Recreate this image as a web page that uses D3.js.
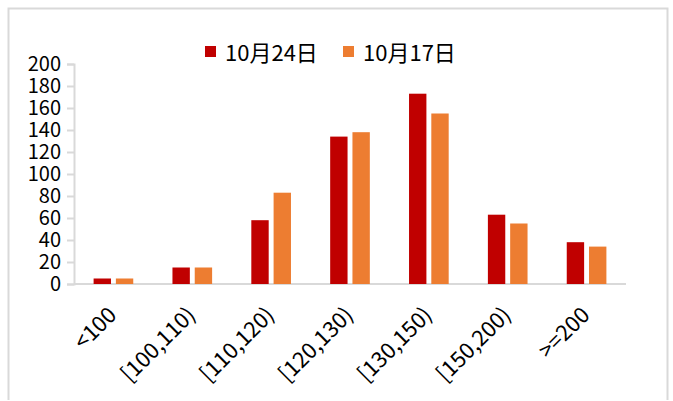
<!DOCTYPE html>
<html>
<head>
<meta charset="utf-8">
<script src="https://cdn.jsdelivr.net/npm/d3@7"></script>
<style>
  html, body { margin: 0; padding: 0; background: #fff; }
  text { font-family: "Noto Sans CJK SC", "Noto Sans", sans-serif; fill: #000; }
</style>
</head>
<body>
<div id="chart"></div>
<script>
// data
const categories = ['<100', '[100,110)', '[110,120)', '[120,130)', '[130,150)', '[150,200)', '>=200'];
const seriesNames = ['10月24日', '10月17日'];
const seriesColors = ['#C00000', '#ED7D31'];
const oct24 = [5, 15, 58, 134, 173, 63, 38];
const oct17 = [5, 15, 83, 138, 155, 55, 34];
const yTicks = [0, 20, 40, 60, 80, 100, 120, 140, 160, 180, 200];

const svgWidth = 673, svgHeight = 401;
const margin = {top: 64, right: 47, bottom: 117, left: 74};
const innerWidth = svgWidth - margin.left - margin.right;
const innerHeight = svgHeight - margin.top - margin.bottom;

const svg = d3.select('#chart').append('svg')
    .attr('width', svgWidth)
    .attr('height', svgHeight);

// outer frame
svg.append('path')
    .attr('d', 'M8.5,400 L8.5,8.5 L667.5,8.5 L667.5,400')
    .attr('fill', 'none')
    .attr('stroke', '#d9d9d9')
    .attr('stroke-width', 2);

const g = svg.append('g')
    .attr('transform', `translate(${margin.left},${margin.top})`);

const x0 = d3.scaleBand()
    .domain(categories)
    .range([0, innerWidth]);

const x1 = d3.scaleBand()
    .domain(seriesNames)
    .range([0, x0.bandwidth()])
    .paddingInner(0.22)
    .paddingOuter(0.88);

const y = d3.scaleLinear()
    .domain([0, 200])
    .range([innerHeight, 0]);

// y axis
const yAxisG = g.append('g')
    .call(d3.axisLeft(y).tickValues(yTicks).tickSize(7).tickPadding(6));
yAxisG.select('.domain').attr('stroke', '#d9d9d9').attr('stroke-width', 2);
yAxisG.selectAll('.tick line').attr('stroke', '#d9d9d9').attr('stroke-width', 2);
yAxisG.selectAll('.tick text')
    .style('font-size', '20px')
    .style('font-family', '"Noto Sans CJK SC", sans-serif')
    .attr('fill', '#000');

// x axis line
g.append('line')
    .attr('x1', 0).attr('x2', innerWidth)
    .attr('y1', innerHeight).attr('y2', innerHeight)
    .attr('stroke', '#d9d9d9')
    .attr('stroke-width', 2);

// bars
const rows = categories.map((c, i) => ({cat: c, vals: [oct24[i], oct17[i]]}));

g.selectAll('g.cat').data(rows)
    .join('g')
    .attr('class', 'cat')
    .attr('transform', d => `translate(${x0(d.cat)},0)`)
    .selectAll('rect')
    .data(d => d.vals.map((v, k) => ({name: seriesNames[k], v: v, k: k})))
    .join('rect')
    .attr('x', d => x1(d.name))
    .attr('y', d => y(d.v))
    .attr('width', x1.bandwidth())
    .attr('height', d => innerHeight - y(d.v))
    .attr('fill', d => seriesColors[d.k]);

// x labels, rotated
g.selectAll('text.xlab').data(categories)
    .join('text')
    .attr('class', 'xlab')
    .attr('transform', d => `translate(${x0(d) + x0.bandwidth() / 2 - 1},${innerHeight + 27}) rotate(-45)`)
    .attr('text-anchor', 'end')
    .attr('dy', '0.35em')
    .style('font-size', '22px')
    .text(d => d);

// legend
const legendX = [205, 343];
const legend = svg.append('g').selectAll('g').data(seriesNames)
    .join('g')
    .attr('transform', (d, i) => `translate(${legendX[i]},46)`);

legend.append('rect')
    .attr('width', 11)
    .attr('height', 11)
    .attr('fill', (d, i) => seriesColors[i]);

legend.append('text')
    .attr('x', 20)
    .attr('y', 15)
    .style('font-size', '22px')
    .text(d => d);
</script>
</body>
</html>
